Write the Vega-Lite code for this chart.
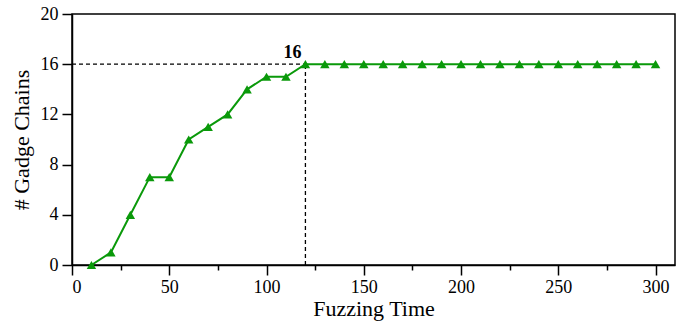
{
  "$schema": "https://vega.github.io/schema/vega-lite/v6.json",
  "width": 603,
  "height": 251,
  "autosize": {"type": "none"},
  "padding": {"left": 72, "top": 14, "right": 6, "bottom": 61},
  "background": "white",
  "config": {
    "view": {"stroke": "black", "strokeWidth": 1.5},
    "font": "Times New Roman",
    "axis": {
      "domainColor": "black", "domainWidth": 1.5, "tickColor": "black", "tickWidth": 1.5,
      "labelFont": "Times New Roman", "labelFontSize": 18, "labelColor": "black",
      "titleFont": "Times New Roman", "titleFontSize": 22, "titleFontWeight": "normal", "titleColor": "black",
      "grid": false, "ticks": true
    }
  },
  "datasets": {
    "main": [
      {"t": 10, "n": 0}, {"t": 20, "n": 1}, {"t": 30, "n": 4}, {"t": 40, "n": 7}, {"t": 50, "n": 7},
      {"t": 60, "n": 10}, {"t": 70, "n": 11}, {"t": 80, "n": 12}, {"t": 90, "n": 14}, {"t": 100, "n": 15},
      {"t": 110, "n": 15}, {"t": 120, "n": 16}, {"t": 130, "n": 16}, {"t": 140, "n": 16}, {"t": 150, "n": 16},
      {"t": 160, "n": 16}, {"t": 170, "n": 16}, {"t": 180, "n": 16}, {"t": 190, "n": 16}, {"t": 200, "n": 16},
      {"t": 210, "n": 16}, {"t": 220, "n": 16}, {"t": 230, "n": 16}, {"t": 240, "n": 16}, {"t": 250, "n": 16},
      {"t": 260, "n": 16}, {"t": 270, "n": 16}, {"t": 280, "n": 16}, {"t": 290, "n": 16}, {"t": 300, "n": 16}
    ],
    "hrule": [{"x1": 0, "x2": 120, "y": 16}],
    "vrule": [{"x": 120, "y1": 0, "y2": 16}],
    "label": [{"t": 120, "n": 16, "txt": "16"}]
  },
  "layer": [
    {
      "data": {"name": "hrule"},
      "mark": {"type": "rule", "color": "black", "strokeDash": [4, 3], "strokeWidth": 1.3},
      "encoding": {
        "x": {"field": "x1", "type": "quantitative",
          "scale": {"domain": [0, 310], "nice": false},
          "axis": {"title": "Fuzzing Time", "values": [0,25,50,75,100,125,150,175,200,225,250,275,300],
            "labelExpr": "datum.value % 50 === 0 ? datum.label : ''",
            "labelFont": "Times New Roman", "labelFontSize": 18, "titleFont": "Times New Roman",
            "tickSize": 10, "tickWidth": 1.5, "tickColor": "black",
            "tickDash": {"condition": {"test": "datum.value % 50 !== 0", "value": [5, 30]}, "value": [20, 0]},
            "labelPadding": 3, "titleY": 33}},
        "x2": {"field": "x2"},
        "y": {"field": "y", "type": "quantitative",
          "scale": {"domain": [0, 20], "nice": false},
          "axis": {"title": "# Gadge Chains", "values": [0,2,4,6,8,10,12,14,16,18,20],
            "labelExpr": "datum.value % 4 === 0 ? datum.label : ''",
            "labelFont": "Times New Roman", "labelFontSize": 18, "titleFont": "Times New Roman",
            "tickSize": 10, "tickWidth": 1.5, "tickColor": "black",
            "tickDash": {"condition": {"test": "datum.value % 4 !== 0", "value": [5, 30]}, "value": [20, 0]},
            "labelPadding": 4, "titleX": -39}}
      }
    },
    {
      "data": {"name": "vrule"},
      "mark": {"type": "rule", "color": "black", "strokeDash": [4, 3], "strokeWidth": 1.3},
      "encoding": {
        "x": {"field": "x", "type": "quantitative"},
        "y": {"field": "y1", "type": "quantitative"},
        "y2": {"field": "y2"}
      }
    },
    {
      "data": {"name": "main"},
      "mark": {"type": "line", "color": "#0a990a", "strokeWidth": 2,
        "point": {"shape": "triangle-up", "size": 90, "filled": true, "color": "#0a990a", "opacity": 1}},
      "encoding": {
        "x": {"field": "t", "type": "quantitative"},
        "y": {"field": "n", "type": "quantitative"}
      }
    },
    {
      "data": {"name": "label"},
      "mark": {"type": "text", "font": "Times New Roman", "fontSize": 18, "fontWeight": "bold", "color": "black", "dx": -13, "dy": -11},
      "encoding": {
        "x": {"field": "t", "type": "quantitative"},
        "y": {"field": "n", "type": "quantitative"},
        "text": {"field": "txt"}
      }
    }
  ]
}
